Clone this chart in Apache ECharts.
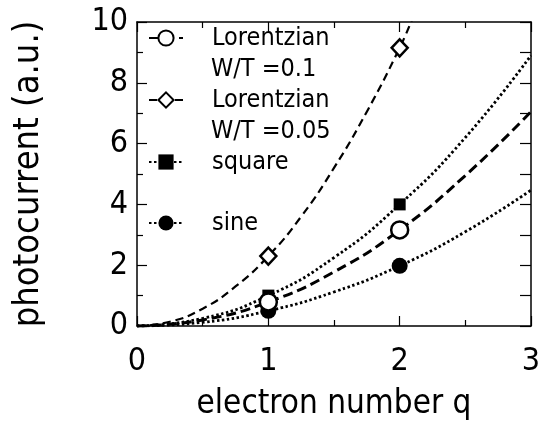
<!DOCTYPE html>
<html>
<head>
<meta charset="utf-8">
<script src="https://cdn.jsdelivr.net/npm/echarts@6/dist/echarts.min.js"></script>
<style>
html,body{margin:0;padding:0;background:#fff;}
#chart{width:539px;height:421px;}
</style>
</head>
<body>
<div id="chart"></div>
<script>
// ---- data ----
var curveQ = [0, 0.5, 1, 1.5, 2, 2.5, 3];
var lor01Curve = [0, 0.2, 0.79, 1.78, 3.16, 4.95, 7.05];
var lor005CurveQ = [0, 0.25, 0.5, 0.75, 1, 1.25, 1.5, 1.75, 2, 2.1];
var lor005Curve = [0, 0.14, 0.57, 1.3, 2.3, 3.6, 5.2, 7.05, 9.15, 10.15];
var squareCurve = [0, 0.25, 1.0, 2.25, 4.0, 6.2, 8.9];
var sineCurve = [0, 0.12, 0.5, 1.12, 1.98, 3.1, 4.47];

var pointQ = [1, 2];
var lor01Points = [0.79, 3.16];
var lor005Points = [2.3, 9.15];
var squarePoints = [1.0, 4.0];
var sinePoints = [0.5, 1.98];

var xTicks = ['0', '1', '2', '3'];
var yTicks = ['0', '2', '4', '6', '8', '10'];

var names = ['Lorentzian W/T =0.1', 'Lorentzian W/T =0.05', 'square', 'sine'];
var legendFirst = ['Lorentzian', 'Lorentzian', 'square', 'sine'];
var legendSecond = ['W/T =0.1', 'W/T =0.05'];

// ---- build ----
function zip(xs, ys) { return ys.map(function (y, i) { return [xs[i], y]; }); }

var FONT = '"DejaVu Sans Condensed", "DejaVu Sans", sans-serif';
var chart = echarts.init(document.getElementById('chart'), null, {renderer: 'canvas'});

function axisCommon(showLabel, interval, min, max) {
  return {
    type: 'value', min: min, max: max, interval: interval,
    axisLine: {show: true, onZero: false, lineStyle: {color: '#000', width: 1.5}},
    axisTick: {show: true, inside: true, length: 10, lineStyle: {color: '#000', width: 1.2}},
    minorTick: {show: true, splitNumber: 2, length: 6, lineStyle: {color: '#000', width: 1.2}},
    splitLine: {show: false},
    minorSplitLine: {show: false},
    axisLabel: {show: showLabel, color: '#000', fontSize: 32, fontFamily: FONT}
  };
}

var xBottom = axisCommon(true, 1, 0, 3);
xBottom.position = 'bottom';
xBottom.axisLabel.margin = 20;
xBottom.axisLabel.formatter = function (v) { return xTicks[Math.round(v)]; };
xBottom.name = 'electron number q';
xBottom.nameLocation = 'middle';
xBottom.nameGap = 62;
xBottom.nameTextStyle = {color: '#000', fontSize: 33, fontFamily: FONT};

var xTop = axisCommon(false, 1, 0, 3);
xTop.position = 'top';

var yLeft = axisCommon(true, 2, 0, 10);
yLeft.position = 'left';
yLeft.axisLabel.margin = 9;
yLeft.axisLabel.formatter = function (v) { return yTicks[Math.round(v / 2)]; };
yLeft.name = 'photocurrent (a.u.)';
yLeft.nameLocation = 'middle';
yLeft.nameGap = 90;
yLeft.nameTextStyle = {color: '#000', fontSize: 36, fontFamily: FONT};

var yRight = axisCommon(false, 2, 0, 10);
yRight.position = 'right';
yRight.axisTick.length = 11;
yRight.minorTick.length = 11;

var lineStyles = [
  {color: '#000', width: 3, type: [10, 5]},
  {color: '#000', width: 2.2, type: [8, 5]},
  {color: '#000', width: 2.8, type: [2.5, 2.5]},
  {color: '#000', width: 2.8, type: [2.5, 2.5]}
];
var legendSymbols = ['emptyCircle', 'emptyDiamond', 'rect', 'circle'];
var pointSymbols = ['circle', 'diamond', 'rect', 'circle'];
var pointFill = ['#fff', '#fff', '#000', '#000'];
var curves = [zip(curveQ, lor01Curve), zip(lor005CurveQ, lor005Curve), zip(curveQ, squareCurve), zip(curveQ, sineCurve)];
var pts = [zip(pointQ, lor01Points), zip(pointQ, lor005Points), zip(pointQ, squarePoints), zip(pointQ, sinePoints)];
var sizes = [17, [16, 17], 12, 16];
var zs = [6, 5, 3, 4];

var series = [];
names.forEach(function (n, i) {
  series.push({
    name: n, type: 'line', data: curves[i], smooth: 0.5, clip: true,
    symbol: legendSymbols[i], showSymbol: false, symbolSize: sizes[i],
    lineStyle: lineStyles[i], itemStyle: {color: '#000', borderWidth: 2.5},
    silent: true, animation: false, z: 2
  });
});
names.forEach(function (n, i) {
  series.push({
    name: n + ' pts', type: 'scatter', data: pts[i],
    symbol: pointSymbols[i], symbolSize: sizes[i],
    itemStyle: {color: pointFill[i], borderColor: '#000', borderWidth: pointFill[i] === '#fff' ? 2.5 : 0, opacity: 1},
    silent: true, animation: false, z: zs[i]
  });
});

var legendCenters = [38, 100, 162, 223];
var legends = names.map(function (n, i) {
  return {
    data: [n], left: 148, top: legendCenters[i] - 12.5, padding: 0,
    itemWidth: 34, itemHeight: 19, selectedMode: false,
    formatter: function () { return legendFirst[i]; },
    textStyle: {color: '#000', fontSize: 25, lineHeight: 25, fontFamily: FONT, padding: [0, 0, 0, 24]}
  };
});

var graphics = legendSecond.map(function (t, i) {
  return {
    type: 'text', left: 211, top: legendCenters[i] + 31.5 - 12.5,
    style: {text: t, fill: '#000', font: '25px ' + FONT}
  };
});

chart.setOption({
  animation: false,
  backgroundColor: '#fff',
  grid: {left: 137, right: 8, top: 22, bottom: 95, containLabel: false, outerBoundsMode: 'none'},
  xAxis: [xBottom, xTop],
  yAxis: [yLeft, yRight],
  legend: legends,
  graphic: graphics,
  series: series
});
</script>
</body>
</html>
